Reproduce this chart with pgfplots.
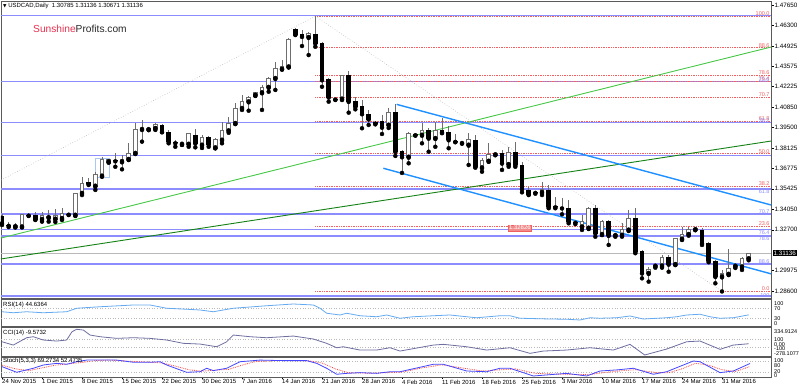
\documentclass[border=0pt]{standalone}
\usepackage{fontspec}
\setmainfont{Liberation Sans}
\newfontfamily\dejavu{DejaVu Sans}
\usepackage{pgfplots}
\usepackage{pgfplotstable}
\pgfplotsset{compat=1.18}
\newcommand{\fs}[1]{\fontsize{#1}{#1}\selectfont}
\definecolor{fibred}{RGB}{240,96,96}
\definecolor{fibblue}{RGB}{140,140,255}
\definecolor{lgreen}{RGB}{70,200,70}
\definecolor{dgreen}{RGB}{20,130,20}
\definecolor{chblue}{RGB}{30,144,255}
\definecolor{dotgray}{RGB}{185,185,185}
\definecolor{framegray}{RGB}{90,90,90}
\definecolor{candlegray}{RGB}{110,110,110}
\definecolor{boxblue}{RGB}{170,200,240}
\definecolor{rsiblue}{RGB}{100,170,240}
\definecolor{ccicol}{RGB}{110,110,160}
\definecolor{stmain}{RGB}{70,70,255}
\definecolor{stsig}{RGB}{250,70,70}
\definecolor{sunred}{RGB}{232,50,80}
\definecolor{profgray}{RGB}{40,40,40}
\definecolor{lblpink}{RGB}{240,140,140}

\pgfplotstableread{
i o h l c
0 1.3362 1.3375 1.3302 1.3315
1 1.3302 1.3322 1.3288 1.3298
2 1.3292 1.3315 1.3285 1.3295
3 1.3290 1.3375 1.3288 1.3368
4 1.3368 1.3382 1.3362 1.3365
5 1.3368 1.3390 1.3335 1.3340
6 1.3340 1.3390 1.3324 1.3362
7 1.3352 1.3402 1.3324 1.3355
8 1.3342 1.3408 1.3322 1.3362
9 1.3346 1.3413 1.3335 1.3375
10 1.3375 1.3382 1.3368 1.3372
11 1.3368 1.3517 1.3362 1.3513
12 1.3513 1.3623 1.3501 1.3579
13 1.3583 1.3612 1.3568 1.3574
14 1.3561 1.3656 1.3535 1.3634
15 1.3628 1.3756 1.3623 1.3739
16 1.3723 1.3739 1.3716 1.3734
17 1.3734 1.3783 1.3689 1.3727
18 1.3723 1.3767 1.3672 1.3739
19 1.3739 1.3849 1.3734 1.3779
20 1.3779 1.3982 1.3774 1.3938
21 1.3938 1.4000 1.3856 1.3940
22 1.3937 1.3947 1.3934 1.3940
23 1.3945 1.3978 1.3934 1.3967
24 1.3967 1.3973 1.3918 1.3922
25 1.3915 1.3934 1.3845 1.3856
26 1.3850 1.3867 1.3822 1.3847
27 1.3840 1.3845 1.3834 1.3842
28 1.3840 1.3915 1.3822 1.3907
29 1.3900 1.3938 1.3818 1.3845
30 1.3834 1.3900 1.3814 1.3882
31 1.3882 1.3894 1.3822 1.3838
32 1.3816 1.3878 1.3812 1.3872
33 1.3867 1.3989 1.3845 1.3929
34 1.3929 1.4022 1.3915 1.3978
35 1.3978 1.4111 1.3973 1.4078
36 1.4078 1.4166 1.4067 1.4122
37 1.4122 1.4160 1.4062 1.4151
38 1.4166 1.4188 1.4160 1.4182
39 1.4182 1.4233 1.4067 1.4218
40 1.4218 1.4288 1.4188 1.4277
41 1.4277 1.4388 1.4200 1.4344
42 1.4339 1.4399 1.4337 1.4354
43 1.4354 1.4543 1.4350 1.4532
44 1.4605 1.4610 1.4565 1.4570
45 1.4570 1.4598 1.4492 1.4554
46 1.4550 1.4587 1.4432 1.4577
47 1.4572 1.4690 1.4487 1.4510
48 1.4510 1.4521 1.4221 1.4266
49 1.4271 1.4277 1.4122 1.4151
50 1.4140 1.4146 1.4133 1.4138
51 1.4140 1.4299 1.4133 1.4295
52 1.4295 1.4328 1.4049 1.4122
53 1.4122 1.4151 1.4071 1.4088
54 1.4088 1.4133 1.3945 1.4040
55 1.4038 1.4067 1.3967 1.4005
56 1.3982 1.3989 1.3971 1.3978
57 1.3989 1.4033 1.3907 1.3951
58 1.3967 1.4078 1.3947 1.4048
59 1.4051 1.4104 1.3761 1.3789
60 1.3789 1.3801 1.3648 1.3754
61 1.3754 1.3918 1.3712 1.3912
62 1.3902 1.3905 1.3896 1.3900
63 1.3900 1.3978 1.3845 1.3927
64 1.3934 1.3945 1.3789 1.3878
65 1.3878 1.3989 1.3822 1.3927
66 1.3934 1.4011 1.3912 1.3918
67 1.3918 1.3962 1.3812 1.3867
68 1.3860 1.3905 1.3852 1.3856
69 1.3851 1.3856 1.3842 1.3849
70 1.3834 1.3912 1.3701 1.3867
71 1.3867 1.3900 1.3683 1.3689
72 1.3683 1.3745 1.3656 1.3727
73 1.3727 1.3845 1.3723 1.3767
74 1.3770 1.3781 1.3767 1.3774
75 1.3779 1.3801 1.3668 1.3712
76 1.3705 1.3822 1.3689 1.3785
77 1.3785 1.3856 1.3689 1.3701
78 1.3701 1.3723 1.3519 1.3539
79 1.3535 1.3556 1.3501 1.3506
80 1.3520 1.3528 1.3510 1.3517
81 1.3519 1.3586 1.3501 1.3535
82 1.3535 1.3568 1.3413 1.3423
83 1.3425 1.3490 1.3413 1.3421
84 1.3418 1.3479 1.3373 1.3414
85 1.3413 1.3468 1.3313 1.3324
86 1.3322 1.3335 1.3308 1.3318
87 1.3290 1.3368 1.3269 1.3324
88 1.3282 1.3423 1.3275 1.3413
89 1.3413 1.3435 1.3224 1.3247
90 1.3240 1.3335 1.3235 1.3324
91 1.3328 1.3335 1.3169 1.3231
92 1.3233 1.3247 1.3224 1.3237
93 1.3235 1.3313 1.3224 1.3269
94 1.3269 1.3402 1.3262 1.3346
95 1.3346 1.3413 1.3114 1.3124
96 1.3124 1.3135 1.2947 1.2981
97 1.2981 1.3024 1.2925 1.3003
98 1.3029 1.3040 1.3018 1.3033
99 1.3031 1.3102 1.3018 1.3084
100 1.3084 1.3102 1.2991 1.3040
101 1.3040 1.3213 1.3036 1.3209
102 1.3209 1.3290 1.3202 1.3240
103 1.3240 1.3290 1.3231 1.3269
104 1.3272 1.3280 1.3268 1.3275
105 1.3269 1.3280 1.3169 1.3180
106 1.3180 1.3191 1.3054 1.3062
107 1.3058 1.3069 1.2914 1.2958
108 1.2958 1.3003 1.2860 1.2981
109 1.2975 1.3142 1.2969 1.3009
110 1.3029 1.3040 1.3016 1.3033
111 1.3024 1.3091 1.3003 1.3076
112 1.30785 1.31136 1.30671 1.31136
}\ohlc

\begin{document}
\begin{tikzpicture}[x=1pt,y=1pt]
\path[use as bounding box] (0,0) rectangle (800,387);
\fill[white] (0,0) rectangle (800,387);

% ================= MAIN PRICE PANEL =================
\begin{axis}[
  at={(1pt,386pt)}, anchor=north west, scale only axis,
  width=770pt, height=297pt,
  xmin=-0.15, xmax=115.35, ymin=1.28163, ymax=1.47914,
  clip mode=individual,
  axis line style={draw=framegray, line width=0.8pt},
  xtick=\empty,
  ytick={1.4765,1.463,1.44925,1.43575,1.42225,1.4085,1.395,1.38125,1.36775,1.35425,1.3405,1.327,1.29975,1.286},
  yticklabels={1.47650,1.46300,1.44925,1.43575,1.42225,1.40850,1.39500,1.38125,1.36775,1.35425,1.34050,1.32700,1.29975,1.28600},
  ytick pos=right, yticklabel pos=right, tick align=outside, major tick length=2.5pt,
  tick style={black, line width=0.5pt},
  yticklabel style={font=\fs{6.3}, anchor=west, inner sep=0pt, xshift=1pt},
  /pgf/number format/assume math mode=true,
]
% blue fibonacci (full width)
\pgfplotsinvokeforeach{1.46939,1.42541,1.39820,1.37630,1.35420,1.33762,1.32699,1.32289,1.30425,1.28300}{
  \addplot[fibblue, line width=1.4pt, forget plot] coordinates {(-0.15,#1) (115.35,#1)};
}
% red fibonacci (from the high)
\pgfplotsinvokeforeach{1.4690,1.44814,1.42984,1.42581,1.41538,1.39909,1.3775,1.35591,1.32919,1.2860}{
  \addplot[fibred, densely dotted, line width=0.7pt, forget plot] coordinates {(47,#1) (115.35,#1)};
}
% bid line
\addplot[dotgray, line width=0.6pt] coordinates {(-0.15,1.31136) (115.35,1.31136)};
% gray dotted trend lines
\addplot[dotgray, dotted, line width=0.6pt] coordinates {(-0.15,1.3601) (47,1.4690)};
\addplot[dotgray, dotted, line width=0.6pt] coordinates {(47,1.4690) (108,1.2860)};
% green lines
\addplot[lgreen, line width=0.9pt] coordinates {(-0.15,1.3215) (115.35,1.4485)};
\addplot[dgreen, line width=0.9pt] coordinates {(-0.15,1.3076) (115.35,1.3860)};
% blue channel
\addplot[chblue, line width=1.4pt] coordinates {(59.2,1.4104) (115.35,1.3435)};
\addplot[chblue, line width=1.4pt] coordinates {(57.2,1.3679) (115.35,1.2977)};
% highlight box
\addplot[boxblue, line width=0.6pt] coordinates {(13.95,1.3619) (16.05,1.3619) (16.05,1.3745) (13.95,1.3745) (13.95,1.3619)};

% candles: wicks
\addplot[only marks, mark=none, error bars/.cd, y dir=plus, y explicit, error mark=none,
  error bar style={draw=candlegray, line width=0.9pt}]
  table[x=i, y=l, y error plus expr=\thisrow{h}-\thisrow{l}] {\ohlc};
% bullish outline
\addplot[only marks, mark=none, unbounded coords=discard, error bars/.cd, y dir=plus, y explicit, error mark=none,
  error bar style={draw=candlegray, line width=4.6pt}]
  table[x expr={\thisrow{c}>=\thisrow{o} ? \thisrow{i} : nan}, y expr=\thisrow{o}-0.00045, y error plus expr=\thisrow{c}-\thisrow{o}+0.0009] {\ohlc};
% bullish inner
\addplot[only marks, mark=none, unbounded coords=discard, error bars/.cd, y dir=plus, y explicit, error mark=none,
  error bar style={draw=white, line width=2.8pt}]
  table[x expr={\thisrow{c}>=\thisrow{o} ? \thisrow{i} : nan}, y expr=\thisrow{o}+0.0002, y error plus expr=\thisrow{c}-\thisrow{o}-0.0004] {\ohlc};
% bearish bodies
\addplot[only marks, mark=none, unbounded coords=discard, error bars/.cd, y dir=plus, y explicit, error mark=none,
  error bar style={draw=black, line width=4.6pt}]
  table[x expr={\thisrow{c}<\thisrow{o} ? \thisrow{i} : nan}, y expr=\thisrow{c}-0.0002, y error plus expr=\thisrow{o}-\thisrow{c}+0.0004] {\ohlc};

% fib labels
\begin{scope}[every node/.style={anchor=south east, inner sep=0.3pt, font=\fs{5.5}}]
\node[text=fibred] at (axis cs:115.2,1.4690) {100.0};
\node[text=fibred] at (axis cs:115.2,1.44814) {88.6};
\node[text=fibred] at (axis cs:115.2,1.42984) {78.6};
\node[text=fibred] at (axis cs:115.2,1.42581) {76.4};
\node[text=fibred] at (axis cs:115.2,1.41538) {70.7};
\node[text=fibred] at (axis cs:115.2,1.39909) {61.8};
\node[text=fibred] at (axis cs:115.2,1.3775) {50.0};
\node[text=fibred] at (axis cs:115.2,1.35591) {38.2};
\node[text=fibred] at (axis cs:115.2,1.32919) {23.6};
\node[text=fibred] at (axis cs:115.2,1.2860) {0.0};
\node[text=fibblue] at (axis cs:115.2,1.42541) {23.6};
\node[text=fibblue] at (axis cs:115.2,1.39820) {38.2};
\node[text=fibblue, anchor=north east] at (axis cs:115.2,1.35380) {61.8};
\node[text=fibblue] at (axis cs:115.2,1.33762) {70.7};
\node[text=fibblue, anchor=north east] at (axis cs:115.2,1.32660) {76.4};
\node[text=fibblue, anchor=north east] at (axis cs:115.2,1.32250) {78.6};
\node[text=fibblue] at (axis cs:115.2,1.30425) {88.6};
\node[text=fibblue, anchor=north east] at (axis cs:115.2,1.2850) {100};
\end{scope}
\node[fill=lblpink, draw=fibred, text=white, anchor=west, inner sep=0.8pt, font=\fs{6}] at (axis cs:75.9,1.32826) {1.32826};
\node[fill=black, text=white, anchor=west, inner sep=0.9pt, font=\fs{6.3}, xshift=1.5pt] at (axis cs:115.35,1.31136) {1.31136};
\end{axis}

% ================= RSI =================
\begin{axis}[
  at={(1pt,87.5pt)}, anchor=north west, scale only axis,
  width=770pt, height=27pt,
  xmin=-0.15, xmax=115.35, ymin=-2, ymax=106,
  clip mode=individual, xtick=\empty, ytick=\empty,
  axis line style={draw=framegray, line width=0.8pt},
]
\addplot[dotgray, dotted, line width=0.6pt] coordinates {(-0.15,70) (115.35,70)};
\addplot[dotgray, dotted, line width=0.6pt] coordinates {(-0.15,30) (115.35,30)};
\addplot[rsiblue, line width=0.8pt] coordinates {
(0,57)(1.7,53)(3.7,57)(6.2,53)(9.7,57)(11.2,71)(14.7,77)(19.7,84)(22.2,84)(24.7,71)(27.7,67)(29.7,64)(31.7,57)(34.7,71)(39.7,81)(43.7,88)(46.7,84)(47.7,71)(48.7,51)(50.7,44)(51.7,51)(53.7,41)(56.2,37)(57.7,44)(59.7,31)(61.7,37)(64.7,41)(67.2,44)(69.7,37)(71.2,33)(74.7,41)(76.2,41)(77.7,31)(82.2,28)(84.7,27)(86.7,24)(88.2,33)(89.7,31)(92.2,33)(94.2,40)(96.2,28)(99.7,33)(101.2,37)(102.7,44)(104.7,47)(106.2,37)(107.7,31)(109.7,33)(112,44.6)};
\end{axis}

% ================= CCI =================
\begin{axis}[
  at={(1pt,59.5pt)}, anchor=north west, scale only axis,
  width=770pt, height=28.5pt,
  xmin=-0.15, xmax=115.35, ymin=-302, ymax=378,
  clip mode=individual, xtick=\empty, ytick=\empty,
  axis line style={draw=framegray, line width=0.8pt},
]
\addplot[dotgray, dotted, line width=0.6pt] coordinates {(-0.15,100) (115.35,100)};
\addplot[dotgray, dotted, line width=0.6pt] coordinates {(-0.15,-100) (115.35,-100)};
\addplot[ccicol, line width=0.8pt] coordinates {
(0,38)(1.7,-41)(3.7,134)(4.7,158)(6.2,79)(8.2,55)(9.7,79)(10.5,277)(11.2,334.9)(12.2,317)(13.2,198)(14.7,158)(17.2,119)(19.7,134)(22.2,119)(24.7,79)(27.2,0)(29.7,-17)(32.2,-81)(33.7,38)(34.7,198)(37.2,158)(39.7,134)(43.7,174)(46.7,103)(48.7,0)(50.2,-105)(51.2,-81)(53.7,-160)(56.2,-160)(58.2,-105)(59.7,-184)(64.7,-41)(66.2,-24)(69.7,-81)(72.7,-160)(76.2,-105)(79.2,-239)(81.2,-184)(84.7,-160)(88.2,-105)(91.7,-160)(94.2,-24)(96.4,-278.1)(99.7,-136)(102.7,38)(104.7,55)(107.7,-143)(109.7,-41)(112,-9.6)};
\end{axis}

% ================= STOCH =================
\begin{axis}[
  at={(1pt,30pt)}, anchor=north west, scale only axis,
  width=770pt, height=20pt,
  xmin=-0.15, xmax=115.35, ymin=-5, ymax=105,
  clip mode=individual, ytick=\empty,
  axis line style={draw=framegray, line width=0.8pt},
  xtick={0,6,12,18,24,30,36,42,48,54,60,66,72,78,84,90,96,102,108},
  xticklabels={24 Nov 2015,1 Dec 2015,8 Dec 2015,15 Dec 2015,22 Dec 2015,30 Dec 2015,7 Jan 2016,14 Jan 2016,21 Jan 2016,28 Jan 2016,4 Feb 2016,11 Feb 2016,18 Feb 2016,25 Feb 2016,3 Mar 2016,10 Mar 2016,17 Mar 2016,24 Mar 2016,31 Mar 2016},
  xtick pos=bottom, tick align=outside, major tick length=2pt,
  tick style={black, line width=0.5pt},
  xticklabel style={font=\fs{6}, anchor=north west, inner sep=0pt, yshift=-0.5pt},
]
\addplot[dotgray, dotted, line width=0.6pt] coordinates {(-0.15,80) (115.35,80)};
\addplot[dotgray, dotted, line width=0.6pt] coordinates {(-0.15,20) (115.35,20)};
\addplot[stsig, densely dotted, line width=0.8pt] coordinates {
(0,60)(2,40)(4,30)(6,45)(8,60)(10,67)(12,75)(14,85)(16,88)(19,82)(22,77)(24,72)(26,55)(28,35)(30,27)(32,33)(34,37)(36,60)(38,80)(42,86)(46,84)(48,72)(50,40)(52,18)(55,16)(58,19)(60,22)(63,45)(66,62)(69,45)(72,28)(75,35)(77,40)(80,15)(84,10)(88,8)(90,18)(93,30)(95,35)(98,20)(100,18)(102,40)(104,70)(106,60)(108,35)(110,25)(112.2,52.5)};
\addplot[stmain, line width=0.8pt] coordinates {
(0,52)(2.2,21)(4.7,43)(6.2,61)(8.2,70)(9.7,65)(11.2,79)(12.7,88)(14.7,88)(17.2,88)(19.7,76)(22.2,76)(23.7,79)(24.7,61)(26.7,34)(27.7,21)(29.7,24)(30.7,43)(31.7,30)(33.7,43)(35.7,79)(38.7,88)(42.2,85)(45.7,85)(47.2,70)(48.7,43)(50.2,10)(51.7,15)(53.7,19)(56.2,15)(58.2,24)(59.7,24)(64.7,65)(66.2,65)(69.7,28)(72.7,24)(74.7,43)(76.2,43)(79.7,0.5)(84.7,15)(87.7,0.5)(89.7,28)(92.2,34)(94.7,43)(97.7,10)(99.7,24)(102.2,61)(103.7,83)(104.7,79)(107.7,19)(109.7,28)(112.2,69.3)};
\end{axis}

% ================= texts =================
\node[anchor=west, inner sep=0pt, font=\fs{6}] at (3,381) {{\dejavu\fs{4.5}▼}\ USDCAD,Daily\ \ 1.30785 1.31136 1.30671 1.31136};
\node[anchor=west, inner sep=0pt, font=\fs{10.2}] at (33,358) {\textcolor{sunred}{Sunshine}\textcolor{profgray}{Profits.com}};
\node[anchor=west, inner sep=0pt, font=\fs{6}] at (3,82) {RSI(14) 44.6364};
\node[anchor=west, inner sep=0pt, font=\fs{6}] at (3,54) {CCI(14) -9.5732};
\node[anchor=west, inner sep=0pt, font=\fs{6}] at (3,26) {Stoch(5,3,3) 69.2734 52.4735};
\begin{scope}[every node/.style={anchor=west, inner sep=0pt, font=\fs{5.5}}]
\node at (774,83) {100};
\node at (774,78.3) {70};
\node at (774,68) {30};
\node at (774,63.3) {0};
\node at (774,55.5) {334.9124};
\node at (774,47.5) {100};
\node at (774,42.8) {0.00};
\node at (774,38.3) {-100};
\node at (774,33.8) {-278.1077};
\node at (774,26) {100};
\node at (774,21.5) {80};
\node at (774,15.5) {20};
\node at (774,11) {0};
\end{scope}
\end{tikzpicture}
\end{document}
